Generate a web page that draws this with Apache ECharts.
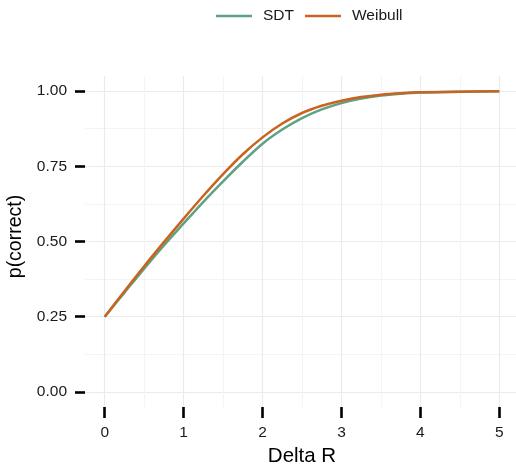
<!DOCTYPE html>
<html>
<head>
<meta charset="utf-8">
<script src="https://cdn.jsdelivr.net/npm/echarts@6/dist/echarts.min.js"></script>
<style>
  html, body { margin: 0; padding: 0; background: #fff; }
  #chart { width: 516px; height: 468px; }
</style>
</head>
<body>
<div id="chart"></div>
<script>
// Data
var deltaR = [0, 0.25, 0.5, 0.75, 1.0, 1.25, 1.5, 1.75, 2.0, 2.25, 2.5, 2.75, 3.0, 3.25, 3.5, 3.75, 4.0, 4.5, 5.0];
var sdt = [0.25, 0.330, 0.410, 0.487, 0.560, 0.632, 0.700, 0.765, 0.825, 0.872, 0.910, 0.939, 0.960, 0.975, 0.985, 0.991, 0.995, 0.998, 0.999];
var weibull = [0.25, 0.335, 0.418, 0.498, 0.576, 0.652, 0.724, 0.790, 0.846, 0.892, 0.927, 0.951, 0.968, 0.980, 0.988, 0.993, 0.996, 0.998, 0.999];
var xTicks = [0, 1, 2, 3, 4, 5];
var xMinor = [0.5, 1.5, 2.5, 3.5, 4.5];
var yTicks = [0, 0.25, 0.5, 0.75, 1.0];
var yMinor = [0.125, 0.375, 0.625, 0.875];

function pairs(xs, ys) {
  var out = [];
  for (var i = 0; i < xs.length; i++) out.push([xs[i], ys[i]]);
  return out;
}

var font = '"Liberation Sans", Arial, Helvetica, sans-serif';
var chart = echarts.init(document.getElementById('chart'), null, { renderer: 'canvas' });

chart.setOption({
  animation: false,
  backgroundColor: '#ffffff',
  textStyle: { fontFamily: font },
  legend: {
    left: 211,
    top: 3,
    icon: 'rect',
    itemWidth: 36,
    itemHeight: 2.5,
    itemGap: 11,
    textStyle: { fontFamily: font, fontSize: 15.5, color: '#1a1a1a', padding: [0, 0, 0, 6] },
    data: ['SDT', 'Weibull']
  },
  grid: { left: 85, top: 76, width: 434, height: 331, containLabel: false, outerBoundsMode: 'none' },
  xAxis: [
    {
      type: 'value', min: -0.25, max: 5.25,
      name: 'Delta R', nameLocation: 'middle', nameGap: 37,
      nameTextStyle: { fontFamily: font, fontSize: 20.5, color: '#000' },
      axisLine: { show: false, onZero: false },
      axisTick: { show: true, customValues: xTicks, length: 11, lineStyle: { color: '#000', width: 2.6 } },
      axisLabel: { show: true, customValues: xTicks, margin: 18, fontSize: 15.5, color: '#1a1a1a', fontFamily: font },
      splitLine: { show: true, lineStyle: { color: '#ebebeb', width: 1.2 } }
    },
    {
      type: 'value', min: -0.25, max: 5.25, position: 'bottom',
      axisLine: { show: false, onZero: false },
      axisTick: { show: false, customValues: xMinor },
      axisLabel: { show: false, customValues: xMinor },
      splitLine: { show: true, lineStyle: { color: '#f4f4f4', width: 1 } }
    }
  ],
  yAxis: [
    {
      type: 'value', min: -0.05, max: 1.05,
      name: 'p(correct)', nameLocation: 'middle', nameGap: 45, nameRotate: 90,
      nameTextStyle: { fontFamily: font, fontSize: 19.5, color: '#000', padding: [0, 0, 0, 10] },
      axisLine: { show: false, onZero: false },
      axisTick: { show: true, customValues: yTicks, length: 10, lineStyle: { color: '#000', width: 2.6 } },
      axisLabel: {
        show: true, customValues: yTicks, margin: 18, fontSize: 15.5, color: '#1a1a1a', fontFamily: font,
        formatter: function (v) { return v.toFixed(2); }
      },
      splitLine: { show: true, lineStyle: { color: '#ebebeb', width: 1.2 } }
    },
    {
      type: 'value', min: -0.05, max: 1.05, position: 'left',
      axisLine: { show: false, onZero: false },
      axisTick: { show: false, customValues: yMinor },
      axisLabel: { show: false, customValues: yMinor },
      splitLine: { show: true, lineStyle: { color: '#f4f4f4', width: 1 } }
    }
  ],
  series: [
    {
      name: 'SDT', type: 'line', xAxisIndex: 0, yAxisIndex: 0,
      data: pairs(deltaR, sdt), smooth: 0.3, showSymbol: false, symbol: 'none',
      lineStyle: { color: '#5da283', width: 2.5 }, itemStyle: { color: '#5da283' }, z: 3
    },
    {
      name: 'Weibull', type: 'line', xAxisIndex: 0, yAxisIndex: 0,
      data: pairs(deltaR, weibull), smooth: 0.3, showSymbol: false, symbol: 'none',
      lineStyle: { color: '#c9631f', width: 2.5 }, itemStyle: { color: '#c9631f' }, z: 4
    }
  ]
});
</script>
</body>
</html>
